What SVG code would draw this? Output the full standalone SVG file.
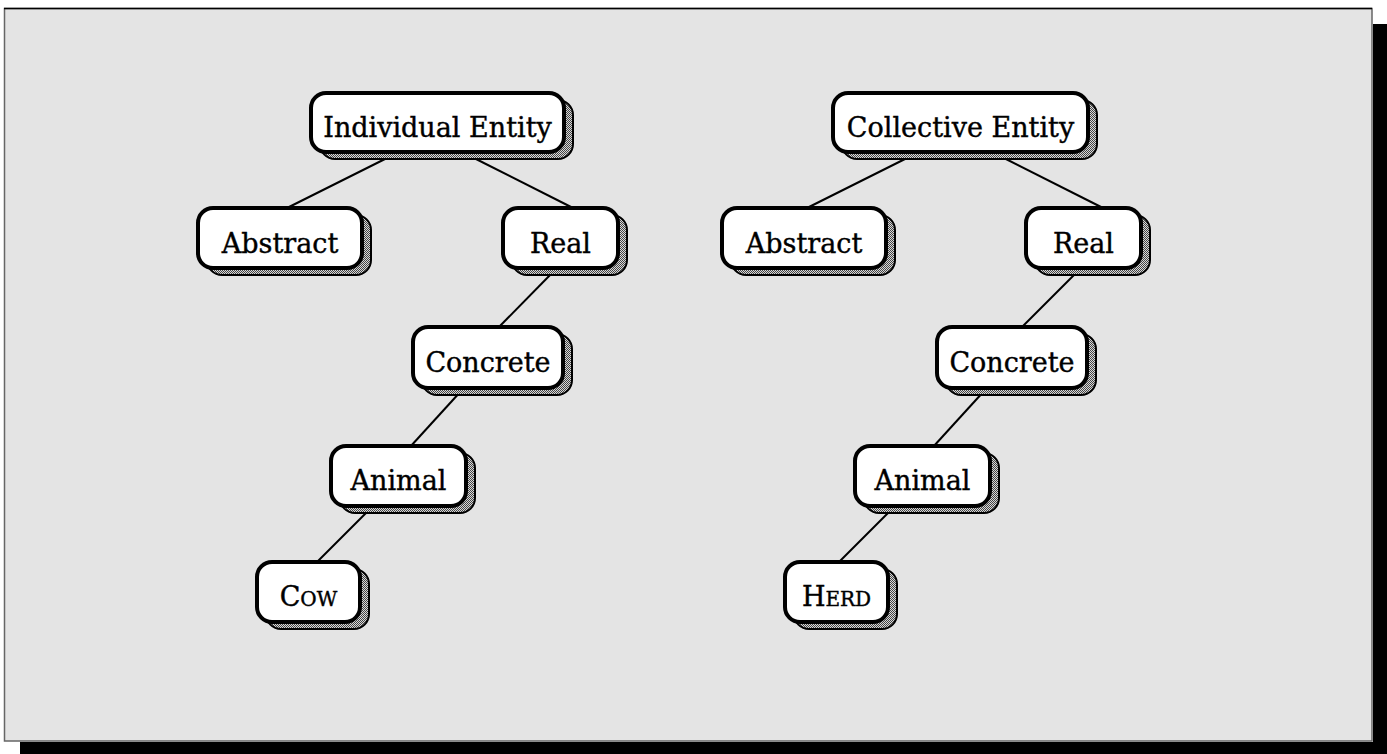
<svg xmlns="http://www.w3.org/2000/svg" width="1387" height="754" viewBox="0 0 1387 754">
<style>
.box{fill:#fff;stroke:#000;stroke-width:4}
.sh{fill:url(#dots);stroke:#000;stroke-width:2}
.lbl{font-family:"DejaVu Serif","Liberation Serif",serif;font-size:27px;fill:#000;stroke:#000;stroke-width:0.4;text-anchor:middle}
.edge{stroke:#000;stroke-width:2;fill:none}
</style>
<defs>
<pattern id="dots" width="2" height="2" patternUnits="userSpaceOnUse">
<rect width="2" height="2" fill="#d8d8d8"/>
<rect width="1" height="1" fill="#444"/>
<rect x="1" y="1" width="1" height="1" fill="#444"/>
</pattern>
</defs>
<rect x="1373" y="24" width="14" height="730" fill="#000"/>
<rect x="20" y="742" width="1367" height="12" fill="#000"/>
<rect x="4.5" y="8.5" width="1367.5" height="732.5" fill="#e4e4e4" stroke="#666" stroke-width="1.5"/>
<line x1="4" y1="8.5" x2="1372" y2="8.5" stroke="#000" stroke-width="1.5"/>
<g id="connectors">
<line class="edge" x1="393" y1="155" x2="283" y2="210"/>
<line class="edge" x1="468" y1="155" x2="577" y2="210"/>
<line class="edge" x1="554" y1="271" x2="498" y2="328"/>
<line class="edge" x1="462" y1="390" x2="410" y2="447"/>
<line class="edge" x1="371" y1="508" x2="316" y2="563"/>
<line class="edge" x1="913" y1="155" x2="803" y2="210"/>
<line class="edge" x1="998" y1="155" x2="1107" y2="210"/>
<line class="edge" x1="1078" y1="271" x2="1021" y2="328"/>
<line class="edge" x1="985" y1="390" x2="933" y2="447"/>
<line class="edge" x1="893" y1="508" x2="838" y2="563"/>
</g>
<g id="n-individual">
<rect class="sh" x="320" y="100" width="253" height="59" rx="15"/>
<rect class="box" x="311" y="93" width="253" height="59" rx="15"/>
<text class="lbl" x="437.5" y="137">Individual Entity</text>
</g>
<g id="n-abstract1">
<rect class="sh" x="207" y="215" width="164" height="60" rx="15"/>
<rect class="box" x="198" y="208" width="164" height="60" rx="15"/>
<text class="lbl" x="280" y="253">Abstract</text>
</g>
<g id="n-real1">
<rect class="sh" x="512" y="215" width="115" height="60" rx="15"/>
<rect class="box" x="503" y="208" width="115" height="60" rx="15"/>
<text class="lbl" x="560.5" y="253">Real</text>
</g>
<g id="n-concrete1">
<rect class="sh" x="422" y="334" width="150" height="61" rx="15"/>
<rect class="box" x="413" y="327" width="150" height="61" rx="15"/>
<text class="lbl" x="488" y="372">Concrete</text>
</g>
<g id="n-animal1">
<rect class="sh" x="340" y="453" width="135" height="60" rx="15"/>
<rect class="box" x="331" y="446" width="135" height="60" rx="15"/>
<text class="lbl" x="398.5" y="490">Animal</text>
</g>
<g id="n-cow">
<rect class="sh" x="266" y="569" width="103" height="60" rx="15"/>
<rect class="box" x="257" y="562" width="103" height="60" rx="15"/>
<text class="lbl" x="308.5" y="606">C<tspan font-size="20">OW</tspan></text>
</g>
<g id="n-collective">
<rect class="sh" x="842" y="100" width="255" height="59" rx="15"/>
<rect class="box" x="833" y="93" width="255" height="59" rx="15"/>
<text class="lbl" x="960.5" y="137">Collective Entity</text>
</g>
<g id="n-abstract2">
<rect class="sh" x="731" y="215" width="164" height="60" rx="15"/>
<rect class="box" x="722" y="208" width="164" height="60" rx="15"/>
<text class="lbl" x="804" y="253">Abstract</text>
</g>
<g id="n-real2">
<rect class="sh" x="1035" y="215" width="115" height="60" rx="15"/>
<rect class="box" x="1026" y="208" width="115" height="60" rx="15"/>
<text class="lbl" x="1083.5" y="253">Real</text>
</g>
<g id="n-concrete2">
<rect class="sh" x="946" y="334" width="150" height="61" rx="15"/>
<rect class="box" x="937" y="327" width="150" height="61" rx="15"/>
<text class="lbl" x="1012" y="372">Concrete</text>
</g>
<g id="n-animal2">
<rect class="sh" x="864" y="453" width="135" height="60" rx="15"/>
<rect class="box" x="855" y="446" width="135" height="60" rx="15"/>
<text class="lbl" x="922.5" y="490">Animal</text>
</g>
<g id="n-herd">
<rect class="sh" x="794" y="569" width="103" height="60" rx="15"/>
<rect class="box" x="785" y="562" width="103" height="60" rx="15"/>
<text class="lbl" x="836.5" y="606">H<tspan font-size="20">ERD</tspan></text>
</g>
</svg>
